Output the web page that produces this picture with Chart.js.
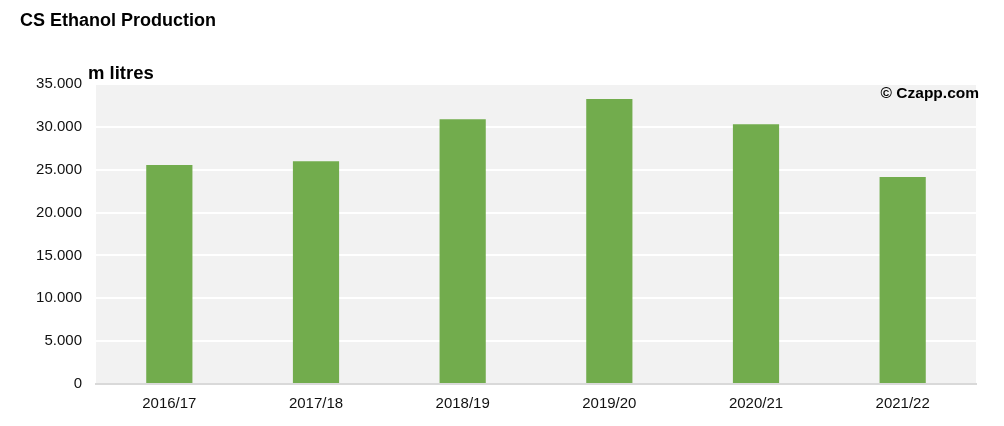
<!DOCTYPE html>
<html>
<head>
<meta charset="utf-8">
<script src="https://cdn.jsdelivr.net/npm/chart.js@4/dist/chart.umd.min.js"></script>
<style>
  html, body { margin: 0; padding: 0; background: #fff; }
</style>
</head>
<body>
<canvas id="ethanolChart" width="1004" height="426"></canvas>
<script>
const seasons = ['2016/17', '2017/18', '2018/19', '2019/20', '2020/21', '2021/22'];
const production = [25550, 26000, 30900, 33250, 30300, 24150];
const yTicks = [0, 5000, 10000, 15000, 20000, 25000, 30000, 35000];

const FONT = '"Liberation Sans", Arial, sans-serif';

// thousands with a dot, like 35.000
function fmt(v) {
    return String(v).replace(/\B(?=(\d{3})+(?!\d))/g, '.');
}

const backdrop = {
    id: 'backdrop',
    beforeDraw(chart) {
        const {ctx, chartArea: a} = chart;
        ctx.save();
        ctx.fillStyle = '#f2f2f2';
        ctx.fillRect(a.left, a.top, a.right - a.left, a.bottom - a.top);
        ctx.restore();
    },
    afterDraw(chart) {
        const {ctx} = chart;
        ctx.save();
        ctx.fillStyle = '#000';
        ctx.textBaseline = 'alphabetic';
        ctx.font = 'bold 18px ' + FONT;
        ctx.textAlign = 'left';
        ctx.fillText('CS Ethanol Production', 20, 26);
        ctx.font = 'bold 18.5px ' + FONT;
        ctx.fillText('m litres', 88, 79);
        ctx.font = 'bold 15.5px ' + FONT;
        ctx.textAlign = 'right';
        ctx.fillText('© Czapp.com', 979, 98);
        ctx.restore();
    }
};

new Chart(document.getElementById('ethanolChart'), {
    type: 'bar',
    data: {
        labels: seasons,
        datasets: [{
            data: production,
            backgroundColor: '#72ac4d',
            barPercentage: 0.315,
            categoryPercentage: 1
        }]
    },
    options: {
        responsive: false,
        animation: false,
        layout: { padding: { left: 0, right: 28, top: 84, bottom: 0 } },
        plugins: { legend: { display: false }, tooltip: { enabled: false } },
        scales: {
            x: {
                grid: { display: false, drawTicks: false },
                border: { display: true, color: '#d9d9d9', width: 2 },
                ticks: { color: '#111', font: { family: FONT, size: 15 }, padding: 11, maxRotation: 0, autoSkip: false },
                afterFit(s) { s.height = 42; }
            },
            y: {
                min: 0,
                max: 35000,
                afterBuildTicks(s) { s.ticks = yTicks.map(v => ({value: v})); },
                grid: {
                    color: c => c.tick && c.tick.value === 0 ? 'rgba(0,0,0,0)' : '#ffffff',
                    lineWidth: 2,
                    drawTicks: false
                },
                border: { display: false },
                ticks: {
                    color: '#111',
                    font: { family: FONT, size: 15 },
                    padding: 14,
                    autoSkip: false,
                    callback: v => fmt(v)
                },
                afterFit(s) { s.width = 96; }
            }
        }
    },
    plugins: [backdrop]
});
</script>
</body>
</html>
